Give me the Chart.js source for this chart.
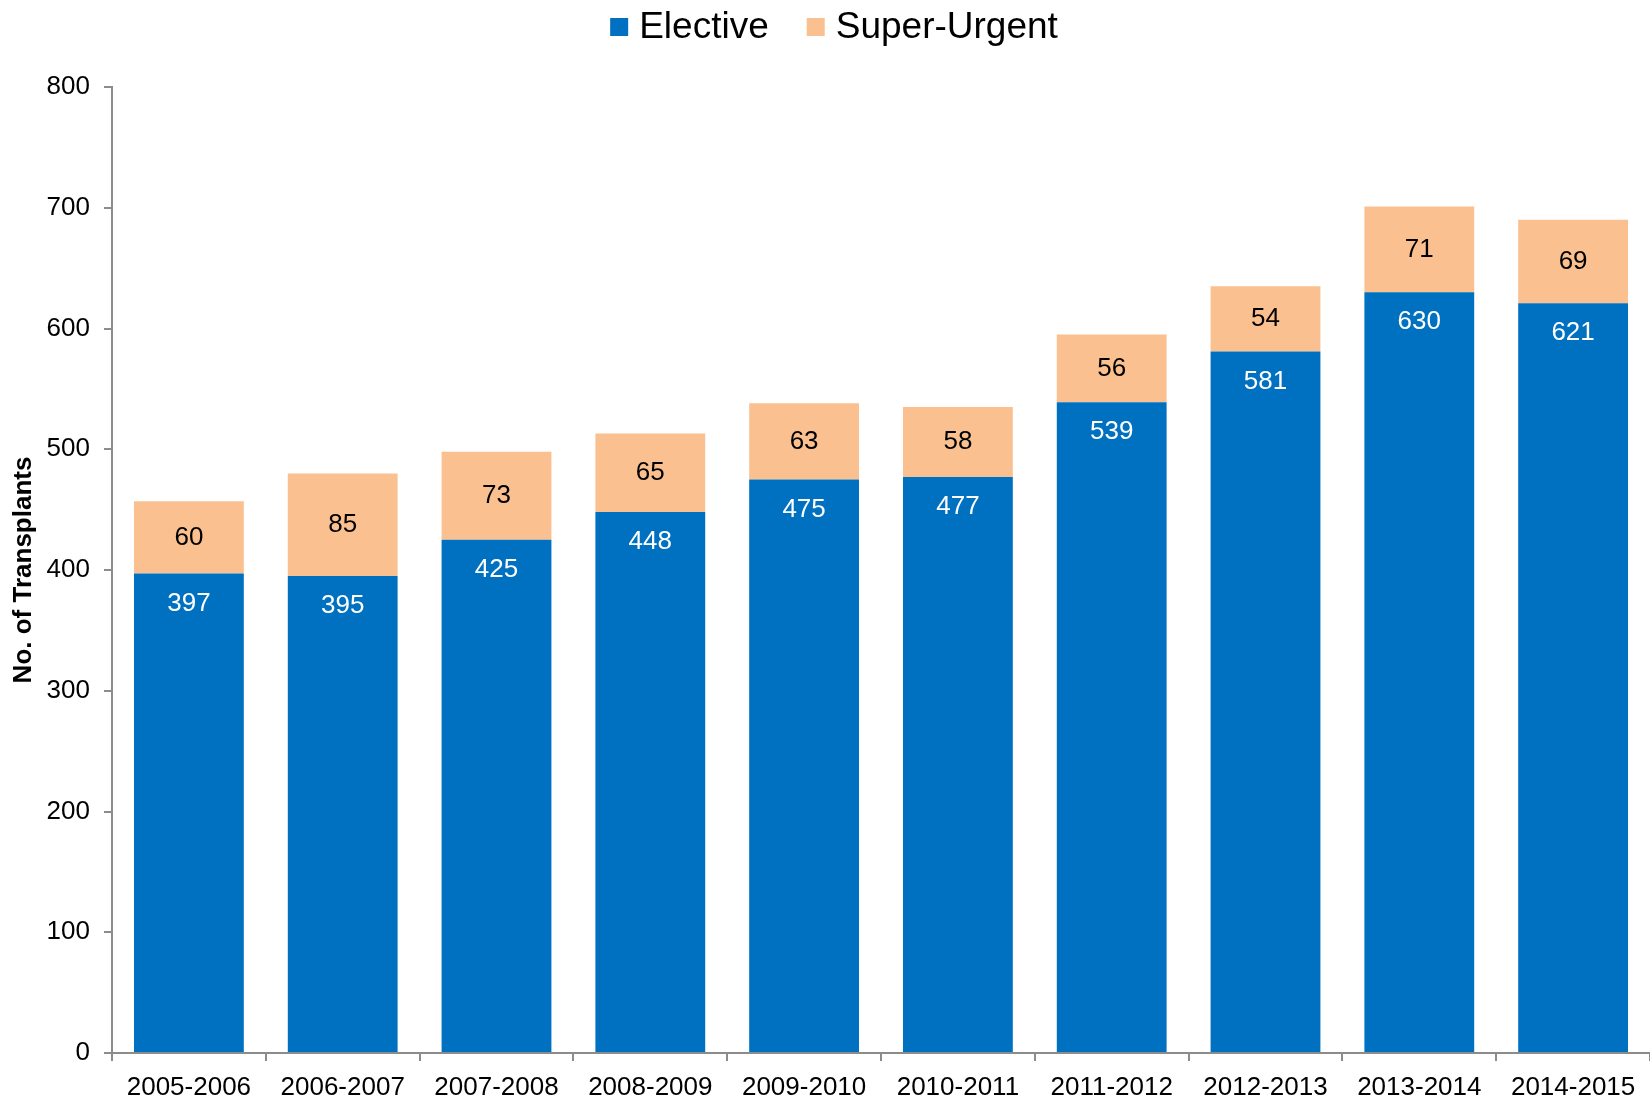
<!DOCTYPE html>
<html>
<head>
<meta charset="utf-8">
<script src="https://cdn.jsdelivr.net/npm/chart.js@4/dist/chart.umd.min.js"></script>
<style>
  html, body { margin: 0; padding: 0; background: #fff; }
  #wrap { width: 1650px; height: 1101px; }
</style>
</head>
<body>
<div id="wrap"><canvas id="chart"></canvas></div>
<script>
const years = ["2005-2006", "2006-2007", "2007-2008", "2008-2009", "2009-2010",
               "2010-2011", "2011-2012", "2012-2013", "2013-2014", "2014-2015"];
const elective = [397, 395, 425, 448, 475, 477, 539, 581, 630, 621];
const superUrgent = [60, 85, 73, 65, 63, 58, 56, 54, 71, 69];

const FONT = "'Liberation Sans', Arial, sans-serif";
const AXIS_GREY = "#8c8c8c";

// labels inside the bars
const barLabels = {
  id: "barLabels",
  afterDatasetsDraw(chart) {
    const ctx = chart.ctx;
    ctx.save();
    ctx.font = "26px " + FONT;
    ctx.textAlign = "center";
    ctx.textBaseline = "middle";
    chart.data.datasets.forEach((ds, i) => {
      const meta = chart.getDatasetMeta(i);
      meta.data.forEach((bar, j) => {
        if (i === 0) {
          ctx.fillStyle = "#fff";
          ctx.fillText(ds.data[j], bar.x, bar.y + 30);
        } else {
          ctx.fillStyle = "#000";
          ctx.fillText(ds.data[j], bar.x, (bar.y + bar.base) / 2);
        }
      });
    });
    ctx.restore();
  }
};

// legend at the top
const topLegend = {
  id: "topLegend",
  afterDraw(chart) {
    const ctx = chart.ctx;
    const box = 18, gapText = 11, gapItem = 38, cy = 27;
    ctx.save();
    ctx.font = "37px " + FONT;
    ctx.textBaseline = "middle";
    const items = chart.data.datasets.map(d => ({
      text: d.label, color: d.backgroundColor, w: ctx.measureText(d.label).width
    }));
    let total = 0;
    items.forEach((it, k) => { total += box + gapText + it.w + (k ? gapItem : 0); });
    let x = 834 - total / 2;
    items.forEach((it) => {
      ctx.fillStyle = it.color;
      ctx.fillRect(x, cy - box / 2, box, box);
      ctx.fillStyle = "#000";
      ctx.fillText(it.text, x + box + gapText, cy + 1);
      x += box + gapText + it.w + gapItem;
    });
    ctx.restore();
  }
};

new Chart(document.getElementById("chart"), {
  type: "bar",
  data: {
    labels: years,
    datasets: [
      { label: "Elective", data: elective, backgroundColor: "#0070C0" },
      { label: "Super-Urgent", data: superUrgent, backgroundColor: "#FAC090" }
    ]
  },
  options: {
    responsive: true,
    maintainAspectRatio: false,
    animation: false,
    layout: { padding: { top: 87, right: 0, left: 0, bottom: 0 } },
    datasets: { bar: { categoryPercentage: 1, barPercentage: 0.714 } },
    plugins: {
      legend: { display: false },
      tooltip: { enabled: false }
    },
    scales: {
      x: {
        stacked: true,
        border: { color: AXIS_GREY, width: 2 },
        grid: { drawOnChartArea: false, drawTicks: true, tickLength: 8, color: AXIS_GREY, lineWidth: 2 },
        ticks: { color: "#000", font: { family: FONT, size: 26 }, padding: 11, maxRotation: 0, autoSkip: false },
        afterFit(scale) { scale.height = 48; scale.paddingRight = 0; scale.paddingLeft = 0; }
      },
      y: {
        stacked: true,
        min: 0,
        max: 800,
        border: { color: AXIS_GREY, width: 2 },
        grid: { drawOnChartArea: false, drawTicks: true, tickLength: 8, color: AXIS_GREY, lineWidth: 2 },
        ticks: { stepSize: 100, color: "#000", font: { family: FONT, size: 26 }, padding: 14 },
        title: {
          display: true,
          text: "No. of Transplants",
          color: "#000",
          font: { family: FONT, size: 26, weight: "bold" },
          padding: { top: 8, bottom: 0 }
        },
        afterFit(scale) { scale.width = 112; }
      }
    }
  },
  plugins: [barLabels, topLegend]
});
</script>
</body>
</html>
